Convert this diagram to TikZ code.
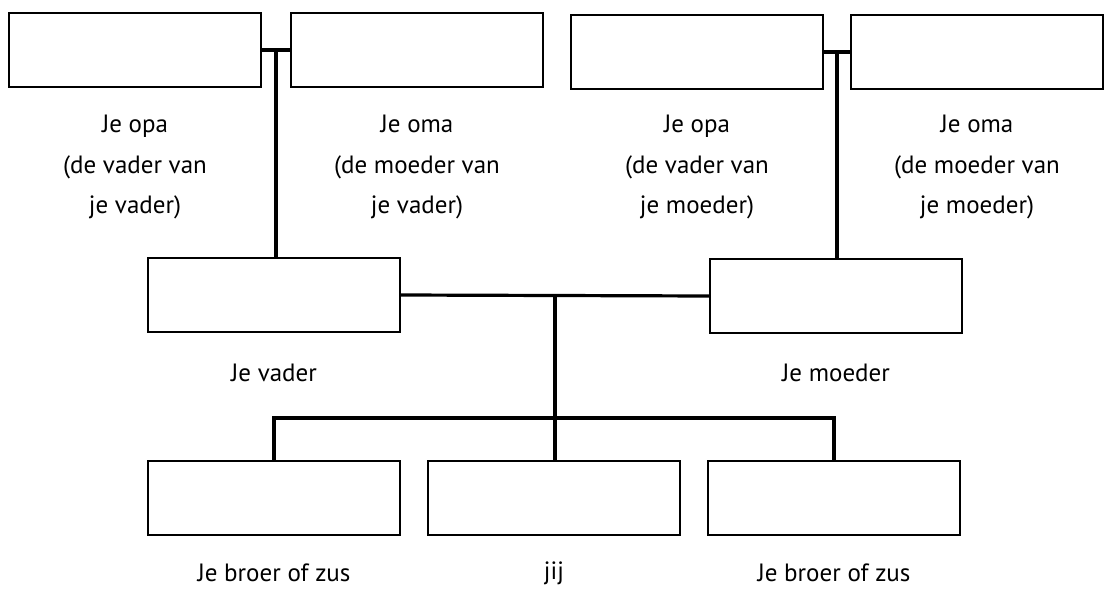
\documentclass[tikz,border=0pt]{standalone}
\usepackage{fontspec}
\setmainfont{PT Sans}
\tikzset{
  persoon/.style={draw=black,line width=1.1pt,rectangle,minimum width=126pt,minimum height=37pt,inner sep=0pt},
  naam/.style={align=center,inner sep=0pt,font=\fontsize{12.5pt}{20pt}\selectfont},
  lijn/.style={line width=1.6pt}
}
\begin{document}
\begin{tikzpicture}[x=0.5pt,y=-0.5pt]

\useasboundingbox (0,0) rectangle (1105,589);

\node[persoon] (opaV) at (135,50) {};
\node[persoon] (omaV) at (417,50) {};
\node[persoon] (opaM) at (697,52) {};
\node[persoon] (omaM) at (977,52) {};

\node[naam] (lopaV) at (135,167) {Je opa\\(de vader van\\je vader)};
\node[naam] (lomaV) at (417,167) {Je oma\\(de moeder van\\je vader)};
\node[naam] (lopaM) at (697,167) {Je opa\\(de vader van\\je moeder)};
\node[naam] (lomaM) at (977,167) {Je oma\\(de moeder van\\je moeder)};

\node[persoon] (vader) at (274,295) {};
\node[persoon] (moeder) at (836,296) {};
\node[naam] (lvader) at (274,373) {Je vader};
\node[naam] (lmoeder) at (836,373) {Je moeder};

\node[persoon] (broer1) at (274,498) {};
\node[persoon] (jij) at (554,498) {};
\node[persoon] (broer2) at (834,498) {};
\node[naam] (lbroer1) at (274,573) {Je broer of zus};
\node[naam] (ljij) at (554,573) {jij};
\node[naam] (lbroer2) at (834,573) {Je broer of zus};

\draw[lijn] (opaV.east) -- coordinate[midway] (ouderV) (omaV.west);
\draw[lijn] (ouderV) -- (ouderV |- vader.north);
\draw[lijn] (opaM.east) -- coordinate[midway] (ouderM) (omaM.west);
\draw[lijn] (ouderM) -- (ouderM |- moeder.north);

\draw[lijn] (vader.east) -- coordinate[midway] (ouders) (moeder.west);
\draw[lijn] (ouders) -- (ouders |- jij.north);
\coordinate (splits) at (554,418);
\draw[lijn] (broer1.north) |- (splits) -| (broer2.north);

\end{tikzpicture}
\end{document}
